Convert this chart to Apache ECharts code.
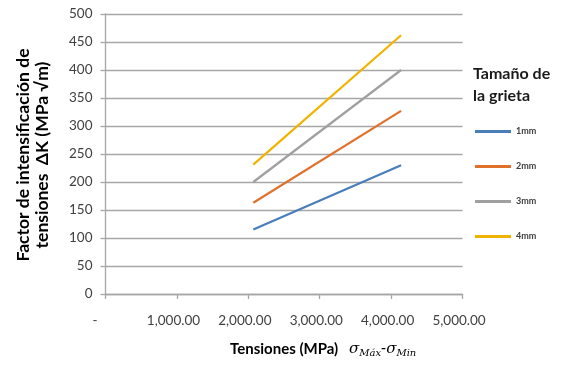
<!DOCTYPE html>
<html><head><meta charset="utf-8">
<script src="https://cdn.jsdelivr.net/npm/echarts@6/dist/echarts.min.js"></script>
<style>html,body{margin:0;padding:0;background:#fff}#c{width:568px;height:370px}</style>
</head><body><div id="c"></div>
<script>
const stress = [2070, 4140];
const s1mm = [115, 230];
const s2mm = [163, 327];
const s3mm = [200, 400];
const s4mm = [231, 462];
const seriesNames = ['1mm', '2mm', '3mm', '4mm'];
const seriesData = [s1mm, s2mm, s3mm, s4mm];
const colors = ['#4a7ebb', '#e0712c', '#a0a0a0', '#f0b400'];
const FONT = 'Lato';

const chart = echarts.init(document.getElementById('c'), null, {renderer: 'canvas'});
chart.setOption({
  animation: false,
  backgroundColor: '#fff',
  grid: {left: 105.5, right: 105.5, top: 14, bottom: 76, containLabel: false},
  xAxis: {
    type: 'value', min: 0, max: 5000, interval: 1000,
    axisLine: {show: true, lineStyle: {color: '#a6a6a6', width: 1.3}},
    axisTick: {show: true, length: 5, lineStyle: {color: '#a6a6a6', width: 1.3}},
    splitLine: {show: false},
    axisLabel: {
      margin: 20, color: '#404040', fontFamily: FONT, fontSize: 13.5,
      formatter: v => v === 0 ? '-      ' : v.toLocaleString('en-US', {minimumFractionDigits: 2, maximumFractionDigits: 2}) + '  '
    }
  },
  yAxis: {
    type: 'value', min: 0, max: 500, interval: 50,
    axisLine: {show: true, lineStyle: {color: '#a6a6a6', width: 1.3}},
    axisTick: {show: true, length: 5, lineStyle: {color: '#a6a6a6', width: 1.3}},
    splitLine: {show: true, lineStyle: {color: '#a6a6a6', width: 1.3}},
    axisLabel: {margin: 13, color: '#404040', fontFamily: FONT, fontSize: 13.5}
  },
  legend: {
    orient: 'vertical', left: 470, top: 122, itemGap: 26,
    itemWidth: 36, itemHeight: 3, icon: 'rect',
    textStyle: {fontFamily: FONT, fontSize: 9, fontWeight: 'bold', color: '#404040'},
    data: seriesNames
  },
  title: {
    text: 'Tamaño de\nla grieta', left: 468, top: 58,
    textStyle: {fontFamily: FONT, fontSize: 16, fontWeight: 'bold', color: '#1a1a1a', lineHeight: 22}
  },
  graphic: [
    {
      type: 'text', x: 33, y: 155, rotation: Math.PI / 2, originX: 0, originY: 0,
      style: {
        text: 'Factor de intensificación de\ntensiones  ΔK (MPa √m)',
        fontFamily: FONT, fontSize: 17.5, fontWeight: 'bold', fill: '#000', lineHeight: 19,
        align: 'center', verticalAlign: 'middle'
      }
    },
    {
      type: 'text', left: 230, top: 342,
      style: {
        text: '{a|Tensiones (MPa)}{sp|   }{s|σ}{b|Máx}{s|-σ}{b|Min}',
        rich: {
          a: {fontFamily: FONT, fontSize: 15, fontWeight: 'bold', fill: '#000', height: 20},
          sp: {fontSize: 13, height: 20},
          s: {fontFamily: 'DejaVu Serif', fontStyle: 'italic', fontSize: 15, fill: '#000', height: 20},
          b: {fontFamily: 'DejaVu Serif', fontStyle: 'italic', fontSize: 10, fill: '#000', height: 20, padding: [8, 0, 0, 0]}
        }
      }
    }
  ],
  series: seriesNames.map((n, i) => ({
    name: n, type: 'line', showSymbol: false, symbol: 'none',
    data: stress.map((x, j) => [x, seriesData[i][j]]),
    lineStyle: {color: colors[i], width: 2.2},
    itemStyle: {color: colors[i]}
  }))
});
</script></body></html>
